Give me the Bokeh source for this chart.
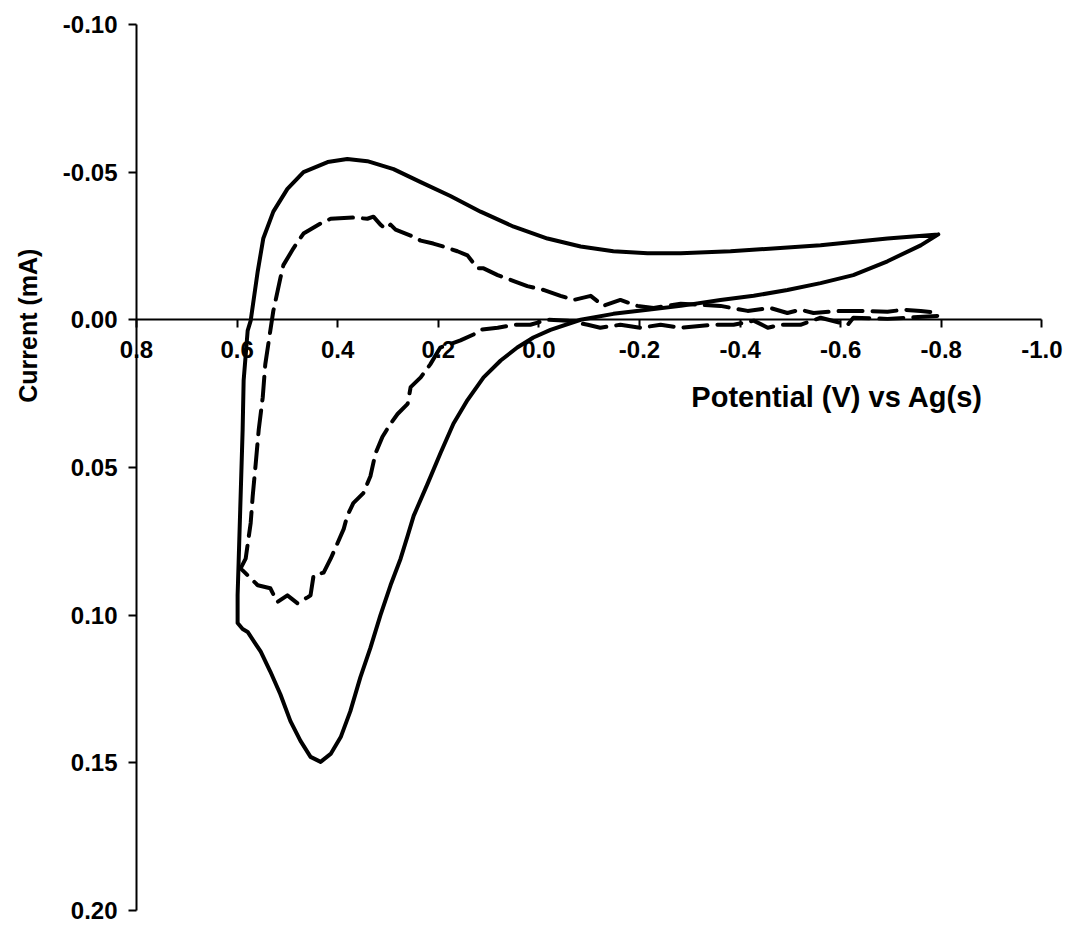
import math
from bokeh.plotting import figure
from bokeh.models import Range1d, LinearAxis, FixedTicker, PrintfTickFormatter, Label
from bokeh.embed import file_html
from bokeh.resources import INLINE

# ---- data (potential V vs Ag, current mA) ----
solid_v = [-0.794, -0.693, -0.560, -0.381, -0.282, -0.216, -0.148, -0.083, -0.017, 0.050,
           0.116, 0.176, 0.235, 0.289, 0.341, 0.381, 0.420, 0.468, 0.500, 0.528,
           0.548, 0.559, 0.573, 0.579, 0.587, 0.589, 0.593, 0.597, 0.599, 0.599,
           0.589, 0.579, 0.553, 0.534, 0.514, 0.494, 0.474, 0.454, 0.434, 0.414,
           0.394, 0.375, 0.355, 0.335, 0.315, 0.295, 0.275, 0.261, 0.249, 0.221,
           0.196, 0.170, 0.142, 0.110, 0.076, 0.043, 0.011, -0.023, -0.083, -0.148,
           -0.216, -0.282, -0.361, -0.427, -0.494, -0.560, -0.625, -0.693, -0.759, -0.794]
solid_i = [-0.0289, -0.0275, -0.0252, -0.0232, -0.0225, -0.0225, -0.0232, -0.0248, -0.0275, -0.0315,
           -0.0366, -0.0419, -0.0466, -0.0510, -0.0537, -0.0544, -0.0534, -0.0500, -0.0443, -0.0366,
           -0.0275, -0.0164, 0.0003, 0.0037, 0.0205, 0.0372, 0.0597, 0.0822, 0.0933, 0.1027,
           0.1047, 0.1057, 0.1124, 0.1191, 0.1268, 0.1359, 0.1426, 0.1480, 0.1497, 0.1470,
           0.1413, 0.1326, 0.1211, 0.1111, 0.1000, 0.0899, 0.0809, 0.0732, 0.0664, 0.0554,
           0.0453, 0.0352, 0.0272, 0.0195, 0.0138, 0.0094, 0.0060, 0.0034, 0.0000, -0.0020,
           -0.0034, -0.0047, -0.0067, -0.0081, -0.0101, -0.0124, -0.0151, -0.0198, -0.0252, -0.0289]

dashed_v = [0.593, 0.583, 0.573, 0.569, 0.563, 0.557, 0.549, 0.544, 0.534, 0.528,
            0.514, 0.508, 0.488, 0.468, 0.434, 0.414, 0.369, 0.341, 0.329, 0.315,
            0.305, 0.295, 0.285, 0.255, 0.235, 0.210, 0.190, 0.162, 0.142, 0.122,
            0.110, 0.082, 0.050, 0.023, -0.009, -0.043, -0.069, -0.103, -0.128, -0.162,
            -0.196, -0.228, -0.282, -0.361, -0.415, -0.460, -0.494, -0.520, -0.546, -0.600,
            -0.653, -0.693, -0.725, -0.759, -0.792,
            -0.792, -0.693, -0.625, -0.614, -0.560, -0.520, -0.480, -0.455, -0.427, -0.387,
            -0.347, -0.282, -0.242, -0.202, -0.162, -0.122, -0.097, -0.057, -0.017, 0.017,
            0.050, 0.082, 0.116, 0.130, 0.156, 0.196, 0.216, 0.235, 0.255, 0.261,
            0.281, 0.295, 0.311, 0.325, 0.335, 0.349, 0.369, 0.381, 0.388, 0.400,
            0.414, 0.428, 0.448, 0.454, 0.460, 0.480, 0.500, 0.520, 0.534, 0.559, 0.593]
dashed_i = [0.0842, 0.0809, 0.0688, 0.0597, 0.0487, 0.0372, 0.0262, 0.0151, 0.0037, -0.0030,
            -0.0141, -0.0185, -0.0242, -0.0292, -0.0326, -0.0342, -0.0346, -0.0342, -0.0349, -0.0322,
            -0.0308, -0.0322, -0.0305, -0.0285, -0.0268, -0.0258, -0.0248, -0.0232, -0.0218, -0.0174,
            -0.0174, -0.0151, -0.0131, -0.0114, -0.0101, -0.0081, -0.0067, -0.0081, -0.0047, -0.0067,
            -0.0047, -0.0040, -0.0054, -0.0047, -0.0030, -0.0040, -0.0023, -0.0034, -0.0023, -0.0030,
            -0.0030, -0.0027, -0.0034, -0.0030, -0.0023,
            -0.0013, -0.0003, -0.0007, 0.0017, -0.0007, 0.0017, 0.0017, 0.0027, 0.0003, 0.0017,
            0.0017, 0.0027, 0.0017, 0.0027, 0.0017, 0.0027, 0.0017, 0.0003, 0.0000, 0.0017,
            0.0017, 0.0027, 0.0034, 0.0050, 0.0070, 0.0094, 0.0151, 0.0195, 0.0228, 0.0285,
            0.0319, 0.0352, 0.0396, 0.0453, 0.0530, 0.0587, 0.0621, 0.0664, 0.0708, 0.0755,
            0.0809, 0.0856, 0.0866, 0.0933, 0.0940, 0.0960, 0.0933, 0.0956, 0.0909, 0.0899, 0.0842]

x_ticks = [0.8, 0.6, 0.4, 0.2, 0.0, -0.2, -0.4, -0.6, -0.8, -1.0]
y_ticks = [-0.10, -0.05, 0.00, 0.05, 0.10, 0.15, 0.20]

x_title = "Potential (V) vs Ag(s)"
y_title = "Current (mA)"

FONT = "Liberation Sans"

# frame covers the whole canvas; axes are placed at fixed data locations
p = figure(frame_width=1067, frame_height=925,
           min_border_left=0, min_border_right=0, min_border_top=0, min_border_bottom=0,
           x_range=Range1d(start=1.0704, end=-1.0509), y_range=Range1d(start=0.2051, end=-0.1081),
           x_axis_location=None, y_axis_location=None,
           output_backend="svg", toolbar_location=None, background_fill_color="white",
           border_fill_color="white")
p.outline_line_color = None
p.grid.visible = False


def style_axis(ax, size):
    ax.axis_line_width = 2
    ax.axis_line_color = "black"
    ax.major_tick_line_width = 2
    ax.major_tick_line_color = "black"
    ax.major_tick_out = 8
    ax.major_tick_in = 0
    ax.minor_tick_line_color = None
    ax.major_label_text_font = FONT
    ax.major_label_text_font_style = "bold"
    ax.major_label_text_font_size = size
    ax.major_label_text_color = "black"


ya = LinearAxis(fixed_location=0.8, bounds=(-0.10, 0.20))
ya.ticker = FixedTicker(ticks=y_ticks)
ya.formatter = PrintfTickFormatter(format="%.2f")
style_axis(ya, "24px")
ya.major_label_standoff = 11
p.add_layout(ya, "left")

xa = LinearAxis(fixed_location=0.0, bounds=(-1.0, 0.8))
xa.ticker = FixedTicker(ticks=x_ticks)
xa.formatter = PrintfTickFormatter(format="%.1f")
style_axis(xa, "24px")
xa.major_label_standoff = 13
p.add_layout(xa, "below")

p.line(solid_v, solid_i, line_color="black", line_width=4, line_join="round", line_cap="round")
p.line(dashed_v, dashed_i, line_color="black", line_width=4, line_join="round", line_cap="round",
       line_dash="24 10")

p.add_layout(Label(x=-0.593, y=0.0262, text=x_title, text_align="center", text_baseline="middle",
                   text_font=FONT, text_font_style="bold", text_font_size="29px", text_color="black"))
p.add_layout(Label(x=1.0167, y=0.002, text=y_title, angle=math.pi / 2,
                   text_align="center", text_baseline="middle",
                   text_font=FONT, text_font_style="bold", text_font_size="25px", text_color="black"))

open("out.html", "w").write(file_html(p, INLINE))
